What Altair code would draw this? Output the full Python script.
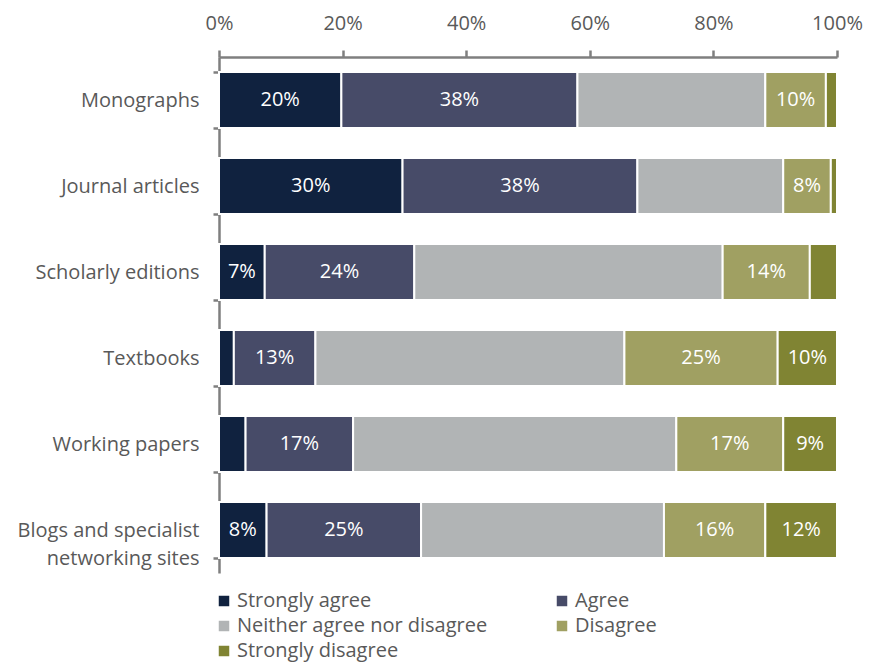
import altair as alt
import pandas as pd

categories = ["Monographs", "Journal articles", "Scholarly editions", "Textbooks",
              "Working papers", "Blogs and specialist networking sites"]
responses = ["Strongly agree", "Agree", "Neither agree nor disagree", "Disagree", "Strongly disagree"]
colors = ["#10223f", "#474b68", "#b1b4b5", "#a0a062", "#808433"]

strongly_agree = [19.8, 29.7, 7.4, 2.4, 4.3, 7.7]
agree = [38.2, 38.0, 24.2, 13.2, 17.4, 25.0]
neither = [30.4, 23.6, 49.9, 50.0, 52.3, 39.3]
disagree = [9.8, 7.7, 14.1, 24.8, 17.3, 16.4]
strongly_disagree = [1.8, 1.0, 4.4, 9.6, 8.7, 11.6]

series = [strongly_agree, agree, neither, disagree, strongly_disagree]
rows = []
for ri, (resp, vals) in enumerate(zip(responses, series)):
    for c, v in zip(categories, vals):
        rows.append({"category": c, "response": resp, "order": ri, "value": v})
df = pd.DataFrame(rows)

FONT = "Open Sans"
FS = 20
base = alt.Chart(df).transform_stack(
    stack="value", groupby=["category"], as_=["x0", "x1"],
    sort=[alt.SortField("order", order="ascending")]
).transform_calculate(
    mid="(datum.x0 + datum.x1) / 2",
    label="format(datum.value, '.0f') + '%'"
)

y_enc = alt.Y("category:N", sort=categories, title=None,
              scale=alt.Scale(paddingInner=0.35, paddingOuter=0.175),
              axis=alt.Axis(tickBand="extent", tickSize=6, labelPadding=14,
                            labelFontSize=FS, labelFont=FONT, labelColor="#595959",
                            labelLineHeight=28, labelLimit=320,
                            labelExpr="datum.label == 'Blogs and specialist networking sites' ? ['Blogs and specialist', 'networking sites'] : datum.label",
                            domainColor="#7f7f7f", tickColor="#7f7f7f",
                            domainWidth=2.5, tickWidth=2.5))

bars = base.mark_bar(stroke="white", strokeWidth=2).encode(
    x=alt.X("x0:Q", title=None, scale=alt.Scale(domain=[0, 100], nice=False),
            axis=alt.Axis(orient="top", values=[0, 20, 40, 60, 80, 100],
                          labelExpr="datum.value + '%'", tickSize=7, labelPadding=17,
                          labelFontSize=FS, labelFont=FONT, labelColor="#595959",
                          domainColor="#7f7f7f", tickColor="#7f7f7f",
                          domainWidth=2.5, tickWidth=2.5, grid=False,
                          labelFlush=False)),
    x2="x1:Q",
    y=y_enc,
    color=alt.Color("response:N", sort=responses,
                    scale=alt.Scale(domain=responses, range=colors),
                    legend=alt.Legend(title=None, orient="none", legendX=-5, legendY=534,
                                      direction="horizontal",
                                      columns=2, columnPadding=64, rowPadding=5,
                                      symbolType="square", symbolSize=110,
                                      symbolStrokeWidth=0, labelFontSize=FS,
                                      labelFont=FONT, labelColor="#595959",
                                      labelLimit=400, symbolOffset=0, labelOffset=3)),
)

text = base.transform_filter(
    "datum.value >= 6.5 && datum.response != 'Neither agree nor disagree'"
).mark_text(color="white", fontSize=FS, font=FONT).encode(
    x=alt.X("mid:Q"),
    y=alt.Y("category:N", sort=categories),
    text="label:N",
)

chart = alt.layer(bars, text).properties(
    width=618, height=516,
    autosize=alt.AutoSizeParams(type="none"),
    padding={"left": 211, "top": 49, "right": 27, "bottom": 91},
).configure_view(stroke=None)

chart.save("out.html", embed_options={"renderer": "svg", "actions": False})
